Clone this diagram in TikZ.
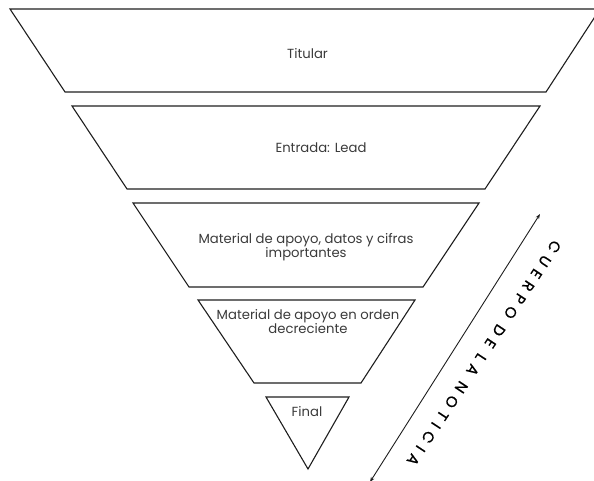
\documentclass[tikz,border=0pt]{standalone}
\usepackage{fontspec}
\setmainfont{Poppins}
\usetikzlibrary{arrows.meta}
\definecolor{trazo}{HTML}{1E1E1E}
\definecolor{letra}{HTML}{3A3A3A}

\begin{document}
\begin{tikzpicture}[x=1pt, y=1pt, line width=1.1pt,
    capa/.style={draw=trazo, line join=miter},
    rotulo/.style={text=letra, font=\fontsize{13.2}{11.5}\selectfont, align=center, inner sep=0pt}]
        \useasboundingbox (0,0) rectangle (594,480);
        % capas del embudo
        \draw[capa] (10,471) -- (600,471) -- (546,388) -- (65,388) -- cycle;
        \draw[capa] (72,374) -- (540,374) -- (485,291) -- (127,291) -- cycle;
        \draw[capa] (133,277) -- (479,277) -- (423,193) -- (189,193) -- cycle;
        \draw[capa] (198,180) -- (415,180) -- (361,97) -- (254,97) -- cycle;
        \draw[capa] (266,83) -- (349,83) -- (308,11) -- cycle;
        \node[rotulo] (titular) at (307.5,426) {Titular};
        \node[rotulo] (entrada) at (321,332) {Entrada: Lead};
        \node[rotulo] (apoyo) at (306,233) {Material de apoyo, datos y cifras\\importantes};
        \node[rotulo] (orden) at (308,158.5) {Material de apoyo en orden\\decreciente};
        \node[rotulo] (final) at (307,68) {Final};
        % flecha del cuerpo
        \coordinate (arriba) at (540,266);
        \coordinate (abajo) at (370,-2);
        \draw[trazo, line width=0.9pt, {Stealth[length=5pt]}-{Stealth[length=5pt]}] (abajo) -- (arriba);
        \node[text=black, font=\fontsize{15}{15}\selectfont\addfontfeatures{LetterSpace=42, FakeBold=0.8}, inner sep=0pt, rotate=-123.5] (cuerpo) at (484,127) {CUERPO DE LA NOTICIA};
    \end{tikzpicture}
\end{document}
